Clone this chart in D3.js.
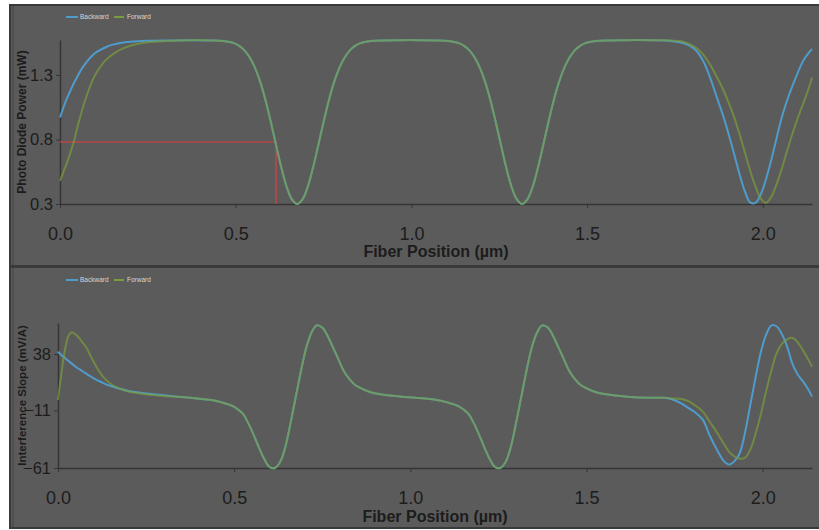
<!DOCTYPE html>
<html><head><meta charset="utf-8">
<script src="https://cdn.jsdelivr.net/npm/d3@7"></script>
<style>body{margin:0;background:#fff}svg{display:block}text{font-family:"Liberation Sans",Arial,sans-serif}</style>
</head><body><svg id="c" width="819" height="530"></svg>
<script>
const positions = [0,0.01,0.02,0.03,0.04,0.05,0.06,0.07,0.08,0.09,0.10,0.115,0.13,0.15,0.175,0.20,0.25,0.30,
0.375,0.435,0.465,0.495,0.51,0.525,0.54,0.555,0.57,0.585,0.60,0.615,0.63,0.645,0.66,0.675,0.69,0.705,0.72,0.735,0.75,0.765,0.78,0.795,0.81,0.825,0.84,0.855,0.885,0.915,0.975,
1.015,1.075,1.105,1.135,1.15,1.165,1.18,1.195,1.21,1.225,1.24,1.255,1.27,1.285,1.30,1.315,1.33,1.345,1.36,1.375,1.39,1.405,1.42,1.435,1.45,1.465,1.48,1.495,1.525,1.555,1.615,
1.68,1.72,
1.74,1.77,1.79,1.81,1.83,1.85,1.87,1.89,1.905,1.92,1.935,1.95,1.965,1.98,1.995,2.01,2.025,2.04,2.055,2.07,2.085,2.10,2.115,2.13,2.14];

const backwardPower = [0.97,1.05,1.12,1.18,1.24,1.29,1.34,1.38,1.415,1.445,1.47,1.495,1.515,1.535,1.55,1.558,1.565,1.568,
1.57,1.568,1.563,1.547,1.526,1.491,1.436,1.355,1.245,1.103,0.935,0.756,0.581,0.433,0.336,0.30,0.336,0.433,0.581,0.756,0.935,1.103,1.245,1.355,1.436,1.491,1.526,1.547,1.563,1.568,1.57,
1.57,1.568,1.563,1.547,1.526,1.491,1.436,1.355,1.245,1.103,0.935,0.756,0.581,0.433,0.336,0.30,0.336,0.433,0.581,0.756,0.935,1.103,1.245,1.355,1.436,1.491,1.526,1.547,1.563,1.568,1.57,
1.57,1.568,
1.563,1.55,1.53,1.49,1.41,1.28,1.12,0.96,0.82,0.67,0.52,0.39,0.31,0.31,0.38,0.50,0.65,0.82,0.98,1.11,1.22,1.32,1.41,1.47,1.50];

const forwardPower = [0.48,0.55,0.62,0.70,0.79,0.90,1.00,1.09,1.17,1.24,1.30,1.365,1.415,1.46,1.50,1.527,1.553,1.563,
1.57,1.568,1.563,1.547,1.526,1.491,1.436,1.355,1.245,1.103,0.935,0.756,0.581,0.433,0.336,0.30,0.336,0.433,0.581,0.756,0.935,1.103,1.245,1.355,1.436,1.491,1.526,1.547,1.563,1.568,1.57,
1.57,1.568,1.563,1.547,1.526,1.491,1.436,1.355,1.245,1.103,0.935,0.756,0.581,0.433,0.336,0.30,0.336,0.433,0.581,0.756,0.935,1.103,1.245,1.355,1.436,1.491,1.526,1.547,1.563,1.568,1.57,
1.57,1.569,
1.567,1.56,1.54,1.51,1.46,1.38,1.28,1.17,1.07,0.96,0.83,0.69,0.55,0.43,0.34,0.31,0.36,0.46,0.58,0.72,0.85,0.97,1.08,1.19,1.28];

const backwardSlope = [40,37,34.5,32,29.5,27,25,23,21,19,17.2,14.8,12.6,10.2,7.9,6,3.8,2.2,
0,-2,-4,-7,-10,-14,-22,-32,-43,-53,-60,-61,-56,-43,-22,1,24,44,57,63,61,54,44,34,24,17,12,9,5,3,1,
0,-2,-4,-7,-10,-14,-22,-32,-43,-53,-60,-61,-56,-43,-22,1,24,44,57,63,61,54,44,34,24,17,12,9,5,3,1,
0,0,
-1,-5,-9,-13,-19,-33,-45,-55,-58,-55,-48,-30,-6,18,40,55,63,62,55,44,29,20,14,7,1];

const forwardSlope = [-2,22,42,54,57,55,52,48,44,38,32,24,17.5,12,8,5.5,3,1.5,
0,-2,-4,-7,-10,-14,-22,-32,-43,-53,-60,-61,-56,-43,-22,1,24,44,57,63,61,54,44,34,24,17,12,9,5,3,1,
0,-2,-4,-7,-10,-14,-22,-32,-43,-53,-60,-61,-56,-43,-22,1,24,44,57,63,61,54,44,34,24,17,12,9,5,3,1,
0,0,
-0.5,-1,-3,-7,-12,-21,-30,-40,-47,-51,-53,-52,-45,-31,-14,6,24,39,47,51,52,48,41,33,27];

const seriesNames = ["Backward","Forward"];
const seriesColors = ["#4f9bcb","#7b9c3c"];
const xTicks = [0,0.5,1.0,1.5,2.0];
const powerTicks = [0.3,0.8,1.3];
const slopeTicks = [-61,-11,38];
const markerPosition = 0.615;
const markerPower = 0.78;

const svg = d3.select("#c");

function panel(cfg){
  const g = svg.append("g");
  g.append("rect").attr("x",10).attr("y",cfg.top).attr("width",830).attr("height",cfg.h)
    .attr("fill","#5b5b5b").attr("stroke","#3a3a3a").attr("stroke-width",2);
  g.append("line").attr("x1",13).attr("x2",13).attr("y1",cfg.top+1).attr("y2",cfg.top+cfg.h-1)
    .attr("stroke","#444").attr("stroke-width",1);

  const x = d3.scaleLinear().domain([0,2.14]).range([cfg.left,812]);
  const y = d3.scaleLinear().domain(cfg.ydom).range([cfg.bottom,cfg.ytop]);

  const xa = g.append("g").attr("transform",`translate(0,${cfg.bottom})`)
    .call(d3.axisBottom(x).tickValues(xTicks).tickFormat(d3.format(".1f")).tickSize(4).tickSizeOuter(0).tickPadding(19));
  const ya = g.append("g").attr("transform",`translate(${cfg.left},0)`)
    .call(d3.axisLeft(y).tickValues(cfg.yticks).tickFormat(cfg.yfmt).tickSize(4).tickSizeOuter(0).tickPadding(3));
  [xa,ya].forEach(a=>{
    a.select(".domain").attr("stroke","#353535").attr("stroke-width",1.5);
    a.selectAll(".tick line").attr("stroke","#353535");
    a.selectAll(".tick text").attr("fill","#1c1c1c").style("font-size","18px");
  });
  ya.selectAll(".tick text").style("font-size","16.5px");

  if(cfg.marker){
    g.append("path").attr("fill","none").attr("stroke","#b84848").attr("stroke-width",1.5)
      .attr("d",`M${x(0)},${y(markerPower)}H${x(markerPosition)}V${y(cfg.ydom[0])}`);
  }

  const line = d3.line().x((d,i)=>x(positions[i])).y(d=>y(d)).curve(d3.curveCatmullRom.alpha(0.5));
  cfg.series.forEach((s,i)=>{
    g.append("path").datum(s).attr("fill","none").attr("stroke",seriesColors[i])
      .attr("stroke-width",2).attr("stroke-opacity",i===1?0.7:1).attr("d",line);
  });

  const lg = g.append("g").attr("transform",`translate(0,${cfg.legendY})`);
  const lx = [[66,78,80],[114,124,127]];
  seriesNames.forEach((n,i)=>{
    lg.append("line").attr("x1",lx[i][0]).attr("x2",lx[i][1]).attr("y1",0).attr("y2",0)
      .attr("stroke",seriesColors[i]).attr("stroke-width",2);
    lg.append("text").attr("x",lx[i][2]).attr("y",2.2).text(n).attr("fill","#d6d6d6").style("font-size","6.5px");
  });

  g.append("text").attr("x",(cfg.left+812)/2).attr("y",cfg.titleY).attr("text-anchor","middle")
    .attr("fill","#1c1c1c").style("font-size","16px").style("font-weight","bold").text("Fiber Position (µm)");
  g.append("text").attr("transform",`translate(26,${(cfg.ytop+cfg.bottom)/2}) rotate(-90)`)
    .attr("text-anchor","middle").attr("fill","#1c1c1c").style("font-size",cfg.ytitleSize)
    .style("font-weight","bold").text(cfg.ytitle);
}

panel({top:5,h:261,left:60,bottom:204,ytop:40,ydom:[0.3,1.571],yticks:powerTicks,yfmt:d3.format(".1f"),
  series:[backwardPower,forwardPower],marker:true,legendY:17,titleY:257,
  ytitle:"Photo Diode Power (mW)",ytitleSize:"12px"});
panel({top:267,h:261,left:58,bottom:468,ytop:323,ydom:[-61,65],yticks:slopeTicks,yfmt:d3.format("d"),
  series:[backwardSlope,forwardSlope],marker:false,legendY:280,titleY:522,
  ytitle:"Interference Slope (mV/A)",ytitleSize:"11.5px"});
</script></body></html>
